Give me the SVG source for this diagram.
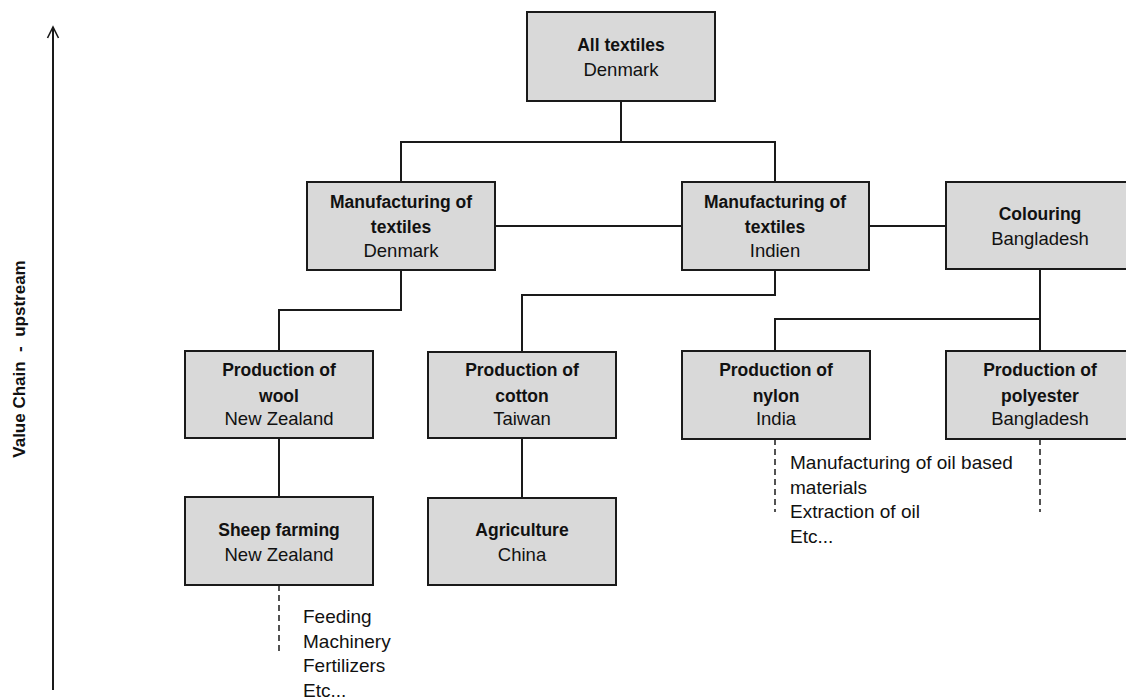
<svg xmlns="http://www.w3.org/2000/svg" width="1126" height="700" viewBox="0 0 1126 700">
<style>
.box{fill:#d9d9d9;stroke:#1a1a1a;stroke-width:2}
.t{font-family:"Liberation Sans",Arial,sans-serif;font-size:18.5px;fill:#111;text-anchor:middle}
.b{font-weight:bold;font-size:17.5px}
.n{font-family:"Liberation Sans",Arial,sans-serif;font-size:19px;fill:#111}
.ln{fill:none;stroke:#1a1a1a;stroke-width:2}
.dash{fill:none;stroke:#1a1a1a;stroke-width:1.5;stroke-dasharray:6,4}
</style>
<defs>
<marker id="ah" markerWidth="14" markerHeight="14" refX="12" refY="7" orient="auto" markerUnits="userSpaceOnUse">
<path d="M1,1.5 L12,7 L1,12.5" fill="none" stroke="#1a1a1a" stroke-width="1.6"/>
</marker>
</defs>
<rect width="1126" height="700" fill="#fff"/>
<g id="axis">
<line x1="53" y1="690" x2="53" y2="27" class="ln" marker-end="url(#ah)"/>
<text transform="translate(25,359) rotate(-90)" class="t b" style="font-size:17px" xml:space="preserve">Value Chain  -  upstream</text>
</g>
<g id="connectors">
<path class="ln" d="M621,101 V142 M401,182 V142 H775 V182"/>
<path class="ln" d="M495,226 H682 M869,226 H946"/>
<path class="ln" d="M401,270 V310 H279 V351"/>
<path class="ln" d="M775,270 V295 H522 V352"/>
<path class="ln" d="M1040,269 V351 M775,351 V319 H1040"/>
<path class="ln" d="M279,438 V497 M522,438 V498"/>
<path class="dash" d="M279,585 V652 M775,439 V512 M1040,439 V512"/>
</g>
<g id="n_all"><rect class="box" x="527" y="12" width="188" height="89"/><text class="t b" x="621" y="51">All textiles</text><text class="t" x="621" y="76">Denmark</text></g>
<g id="n_mfg_dk"><rect class="box" x="307" y="182" width="188" height="88"/><text class="t b" x="401" y="208">Manufacturing of</text><text class="t b" x="401" y="233">textiles</text><text class="t" x="401" y="257">Denmark</text></g>
<g id="n_mfg_in"><rect class="box" x="682" y="182" width="187" height="88"/><text class="t b" x="775" y="208">Manufacturing of</text><text class="t b" x="775" y="233">textiles</text><text class="t" x="775" y="257">Indien</text></g>
<g id="n_colour"><rect class="box" x="946" y="182" width="187" height="87"/><text class="t b" x="1040" y="220">Colouring</text><text class="t" x="1040" y="245">Bangladesh</text></g>
<g id="n_wool"><rect class="box" x="185" y="351" width="188" height="87"/><text class="t b" x="279" y="376">Production of</text><text class="t b" x="279" y="402">wool</text><text class="t" x="279" y="425">New Zealand</text></g>
<g id="n_cotton"><rect class="box" x="428" y="352" width="188" height="86"/><text class="t b" x="522" y="376">Production of</text><text class="t b" x="522" y="402">cotton</text><text class="t" x="522" y="425">Taiwan</text></g>
<g id="n_nylon"><rect class="box" x="682" y="351" width="188" height="88"/><text class="t b" x="776" y="376">Production of</text><text class="t b" x="776" y="402">nylon</text><text class="t" x="776" y="425">India</text></g>
<g id="n_poly"><rect class="box" x="946" y="351" width="187" height="88"/><text class="t b" x="1040" y="376">Production of</text><text class="t b" x="1040" y="402">polyester</text><text class="t" x="1040" y="425">Bangladesh</text></g>
<g id="n_sheep"><rect class="box" x="185" y="497" width="188" height="88"/><text class="t b" x="279" y="536">Sheep farming</text><text class="t" x="279" y="561">New Zealand</text></g>
<g id="n_agri"><rect class="box" x="428" y="498" width="188" height="87"/><text class="t b" x="522" y="536">Agriculture</text><text class="t" x="522" y="561">China</text></g>
<g id="notes_sheep"><text class="n" x="303" y="623">Feeding</text><text class="n" x="303" y="648">Machinery</text><text class="n" x="303" y="672">Fertilizers</text><text class="n" x="303" y="697">Etc...</text></g>
<g id="notes_nylon"><text class="n" x="790" y="469">Manufacturing of oil based</text><text class="n" x="790" y="494">materials</text><text class="n" x="790" y="518">Extraction of oil</text><text class="n" x="790" y="543">Etc...</text></g>
</svg>
